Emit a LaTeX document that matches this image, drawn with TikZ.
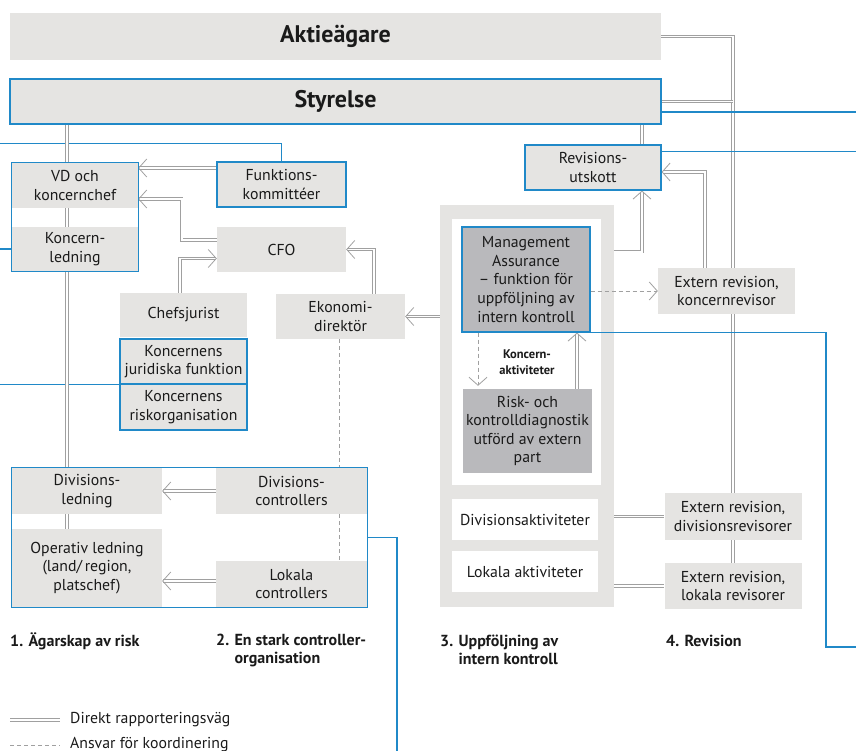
\documentclass[tikz,border=0pt]{standalone}
\usepackage{fontspec}
\setmainfont{PT Sans}
\usetikzlibrary{arrows.meta,calc,fit}
\definecolor{boxgray}{HTML}{E5E4E2}
\definecolor{darkbox}{HTML}{B9B9BC}
\definecolor{lineblue}{HTML}{2089C8}
\definecolor{conngray}{HTML}{A0A0A0}
\definecolor{txt}{HTML}{1A1A1A}
\pgfdeclarelayer{panel}
\pgfdeclarelayer{conn}
\pgfsetlayers{panel,conn,main}
\begin{document}
\begin{tikzpicture}[x=1pt,y=-1pt,
  font=\fontsize{15.8}{18.6}\selectfont, text=txt,
  box/.style={fill=boxgray, inner sep=0pt, align=center},
  bluebox/.style={box, draw=lineblue, line width=1.2pt},
  dbox/.style={fill=darkbox, inner sep=0pt, align=center},
  wbox/.style={fill=white, inner sep=0pt, align=center},
  dbl/.style={draw=conngray, double=white, line width=0.8pt, double distance=1.5pt},
  dblarr/.style={dbl, -{Straight Barb[line width=0.8pt,length=8pt,width=18pt]}},
  dsh/.style={draw=conngray, line width=0.9pt, dash pattern=on 4pt off 3pt},
  dsharr/.style={dsh, -{Straight Barb[line width=0.8pt,length=8pt,width=18pt]}},
  bline/.style={draw=lineblue, line width=1.2pt},
  head/.style={font=\fontsize{16}{18}\selectfont\bfseries, align=left, inner sep=0pt, anchor=west},
  big/.style={font=\fontsize{24}{28}\selectfont\bfseries}
]
\useasboundingbox (0,0) rectangle (856,751);

% panels
\begin{pgfonlayer}{panel}
\node[fill=boxgray, minimum width=174pt, minimum height=402pt, inner sep=0pt] (panel) at (527,406) {};
\node[fill=white, minimum width=149pt, minimum height=266pt, inner sep=0pt] (inner) at (526.5,352) {};
\end{pgfonlayer}

% nodes
\node[box, big, minimum width=651pt, minimum height=47pt] (akt) at (335.5,36.5) {Aktieägare};
\node[bluebox, big, minimum width=651pt, minimum height=45pt] (sty) at (335.5,101.5) {Styrelse};

\node[box, minimum width=126pt, minimum height=45pt] (vd) at (75,185.5) {VD och\\koncernchef};
\node[box, minimum width=126pt, minimum height=44pt] (kl) at (75,249) {Koncern-\\ledning};
\node[draw=lineblue, line width=1.2pt, inner sep=0pt, fit=(vd)(kl)] (vdgrp) {};

\node[bluebox, minimum width=129pt, minimum height=45pt] (fk) at (281.5,184.5) {Funktions-\\kommittéer};
\node[box, minimum width=129pt, minimum height=45pt] (cfo) at (281.5,249.5) {CFO};
\node[box, minimum width=127pt, minimum height=44pt] (cj) at (183.5,315) {Chefsjurist};
\node[bluebox, minimum width=127pt, minimum height=45pt] (jur) at (183.5,361.5) {Koncernens\\juridiska funktion};
\node[bluebox, minimum width=127pt, minimum height=46pt] (rorg) at (183.5,407) {Koncernens\\riskorganisation};
\node[box, minimum width=129pt, minimum height=45pt] (ek) at (340.5,316.5) {Ekonomi-\\direktör};

\node[bluebox, minimum width=136pt, minimum height=45pt] (rev) at (593,167.5) {Revisions-\\utskott};

\node[dbox, draw=lineblue, line width=1.2pt, minimum width=128pt, minimum height=105pt] (ma) at (526,279.5) {Management\\Assurance\\– funktion för\\uppföljning av\\intern kontroll};
\node[dbox, minimum width=129pt, minimum height=84pt] (rk) at (527.5,431) {Risk- och\\kontrolldiagnostik\\utförd av extern\\part};
\node[font=\fontsize{12.5}{15.5}\selectfont\bfseries, align=center, inner sep=0pt] (kakt) at (527,362) {Koncern-\\aktiviteter};
\node[wbox, minimum width=146pt, minimum height=41pt] (divakt) at (525,519.5) {Divisionsaktiviteter};
\node[wbox, minimum width=146pt, minimum height=41pt] (lokakt) at (525,571.5) {Lokala aktiviteter};

\node[box, minimum width=137pt, minimum height=46pt] (kr) at (726.5,291) {Extern revision,\\koncernrevisor};
\node[box, minimum width=137pt, minimum height=47pt] (dr) at (733,516.5) {Extern revision,\\divisionsrevisorer};
\node[box, minimum width=137pt, minimum height=46pt] (lr) at (733,586) {Extern revision,\\lokala revisorer};

\node[box, minimum width=150pt, minimum height=46pt] (divl) at (87,491) {Divisions-\\ledning};
\node[box, minimum width=150pt, minimum height=78pt] (opl) at (87,568) {Operativ ledning\\(land/\,region,\\platschef)};
\node[box, minimum width=151pt, minimum height=46pt] (divc) at (291.5,491) {Divisions-\\controllers};
\node[box, minimum width=151pt, minimum height=46pt] (lokc) at (291.5,584) {Lokala\\controllers};
\node[draw=lineblue, line width=1.2pt, inner sep=0pt, fit=(divl)(opl)(divc)(lokc)] (botgrp) {};

% headings
\node[head] (h1) at (10,641) {1. Ägarskap av risk};
\node[head] (h2) at (216,650) {2. En stark controller-\\\hphantom{2. }organisation};
\node[head] (h3) at (440,650) {3. Uppföljning av\\\hphantom{3. }intern kontroll};
\node[head] (h4) at (666,641) {4. Revision};

% legend
\coordinate (lg1a) at (10,720);
\coordinate (lg1b) at (60,720);
\coordinate (lg2a) at (10,745);
\coordinate (lg2b) at (60,745);
\node[anchor=west, inner sep=0pt] (lg1) at (70,720) {Direkt rapporteringsväg};
\node[anchor=west, inner sep=0pt] (lg2) at (70,745) {Ansvar för koordinering};

% connectors
\begin{pgfonlayer}{conn}
\coordinate (colA) at (67,0);
\coordinate (colR) at (733,0);
\coordinate (colQ) at (642,0);
\coordinate (colK) at (705,0);
\coordinate (colE) at (339,0);
\coordinate (colEk) at (374,0);
\coordinate (colJ) at (180,0);
\coordinate (colD) at (478,0);
\coordinate (colU) at (577,0);
\coordinate (colB) at (826,647);

\draw[dbl] (akt.east) -| (dr.north -| colR);
\draw[dbl] (sty.east) -- (sty.east -| colR);
\draw[dbl] (dr.south) -- (lr.north);
\draw[bline] ($(sty.east)+(0,10.5)$) -- ++(200,0);
\draw[bline] ($(rev.north east)+(0,7)$) -- ++(200,0);
\draw[dbl] (sty.south -| colQ) -- (rev.north -| colQ);
\draw[dblarr] (kr.north -| colK) |- ($(rev.east)+(0,4.5)$);
\draw[dblarr] ($(panel.north east)+(0,47)$) -| (rev.south -| colQ);
\draw[dsharr] (ma.east |- kr.west) -- (kr.west);
\draw[bline] (ma.south east) -| (colB) -- ++(40,0);
\draw[dblarr] (panel.west |- ek.east) -- (ek.east);
\draw[dblarr] (ek.north -| colEk) |- (cfo.east);
\draw[dblarr] ($(cfo.west)+(0,-9.5)$) -- ++(-35,0) |- ($(vd.east)+(0,13.5)$);
\draw[dblarr] ($(fk.west)+(0,-16.5)$) -- ($(vd.east)+(0,-17.5)$);
\draw[bline] (fk.north) -- ++(0,-18) -- ++(-290,0);
\draw[bline] (vdgrp.west |- kl.west) -- ++(-15,0);
\draw[dblarr] (cj.north -| colJ) |- ($(cfo.west)+(0,9)$);
\draw[bline] (jur.south west) -- ++(-125,0);
\draw[dblarr] (divc.west) -- (divl.east);
\draw[dblarr] ($(lokc.west)+(0,-3)$) -- ($(opl.east)+(0,13)$);
\draw[bline] (botgrp.east) -| (397,770);
\draw[dsh] (ek.south -| colE) -- (divc.north -| colE);
\draw[dsh] (divc.south -| colE) -- (lokc.north -| colE);
\draw[dbl] (sty.south -| colA) -- (divl.north -| colA);
\draw[dbl] (divl.south -| colA) -- (opl.north -| colA);
\draw[dsharr] (ma.south -| colD) -- ($(rk.north -| colD)+(0,-3)$);
\draw[dblarr] (rk.north -| colU) -- (ma.south -| colU);
\draw[dbl] (panel.east |- dr.west) -- (dr.west);
\draw[dbl] (panel.east |- lr.west) -- (lr.west);
\draw[dbl] (lg1a) -- (lg1b);
\draw[dsh] (lg2a) -- (lg2b);
\end{pgfonlayer}
\end{tikzpicture}
\end{document}
